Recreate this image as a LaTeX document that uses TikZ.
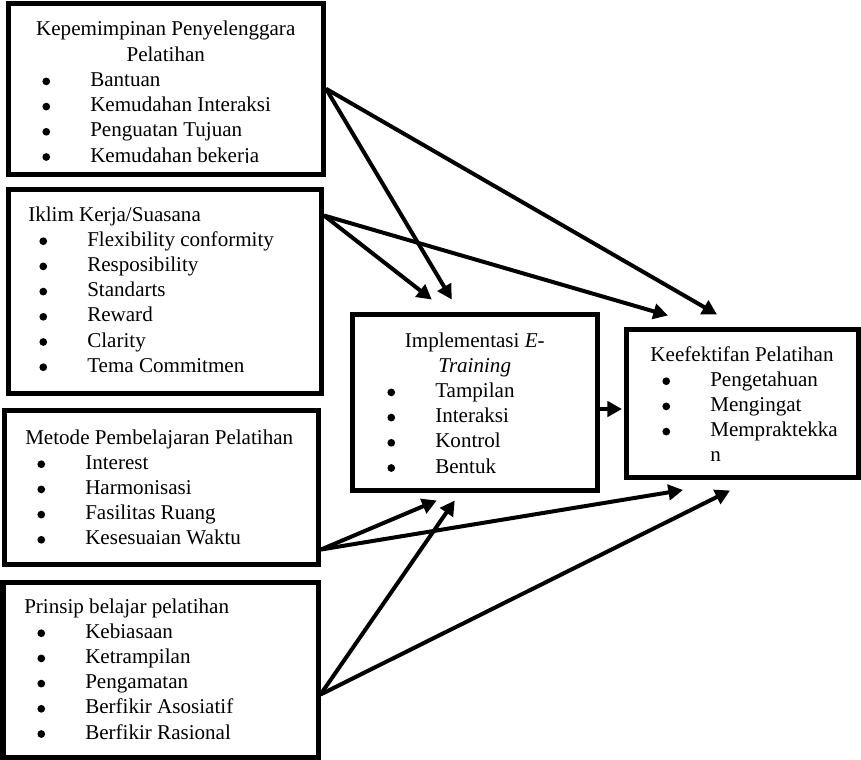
\documentclass[tikz,border=0pt]{standalone}
\usepackage{fontspec}
\setmainfont{Liberation Serif}
\usetikzlibrary{arrows.meta,calc,fit}
\newcommand{\titik}{\tikz[baseline=-3.75pt]\fill (0,0) circle (2.9pt);}
\newcommand{\butir}[1]{\makebox[0pt]{\titik}\hspace*{33pt}#1}

\begin{document}
\begin{tikzpicture}[x=0.75pt,y=-0.75pt,
  kotak/.style={draw,line width=3.75pt,inner sep=0pt},
  teks/.style={inner sep=0pt,font=\fontsize{15.8pt}{18.9pt}\selectfont},
  isi/.style={teks,anchor=base west},
  judul/.style={teks,anchor=base},
  panah/.style={line width=3pt,-{Triangle[length=11pt,width=11.5pt]}}]
\useasboundingbox (0,0) rectangle (861,760);

% kotak variabel
\node[kotak,fit={(8,3) (323.5,174.5)}] (kpm) {};
\node[kotak,fit={(8,189) (321.5,393)}] (iklim) {};
\node[kotak,fit={(4.5,410) (318.5,564.5)}] (metode) {};
\node[kotak,fit={(3,582) (318,757)}] (prinsip) {};
\node[kotak,fit={(352,314) (597.5,490)}] (impl) {};
\node[kotak,fit={(626.5,329.5) (858.5,477.5)}] (keef) {};

% isi kotak
\node[judul] (kpm-judul) at (165.75,36) {\begin{tabular}[t]{@{}c@{}}Kepemimpinan Penyelenggara\\Pelatihan\end{tabular}};
\begin{scope}
\clip (10,5) rectangle (321,162.6);
\node[isi] (kpm-isi) at (46,86.4) {\begin{tabular}[t]{@{}l@{}}\butir{Bantuan}\\\butir{Kemudahan Interaksi}\\\butir{Penguatan Tujuan}\\\butir{Kemudahan bekerja}\end{tabular}};
\end{scope}

\node[isi] (iklim-judul) at (28,221) {Iklim Kerja/Suasana};
\node[isi] (iklim-isi) at (43,246.2) {\begin{tabular}[t]{@{}l@{}}\butir{Flexibility conformity}\\\butir{Resposibility}\\\butir{Standarts}\\\butir{Reward}\\\butir{Clarity}\\\butir{Tema Commitmen}\end{tabular}};

\node[isi] (metode-judul) at (25,444) {Metode Pembelajaran Pelatihan};
\node[isi] (metode-isi) at (41,469.2) {\begin{tabular}[t]{@{}l@{}}\butir{Interest}\\\butir{Harmonisasi}\\\butir{Fasilitas Ruang}\\\butir{Kesesuaian Waktu}\end{tabular}};

\node[isi] (prinsip-judul) at (24,613) {Prinsip belajar pelatihan};
\node[isi] (prinsip-isi) at (41,638.2) {\begin{tabular}[t]{@{}l@{}}\butir{Kebiasaan}\\\butir{Ketrampilan}\\\butir{Pengamatan}\\\butir{Berfikir Asosiatif}\\\butir{Berfikir Rasional}\end{tabular}};

\node[judul] (impl-judul) at (474.75,347) {\begin{tabular}[t]{@{}c@{}}Implementasi \textit{E}-\\\textit{Training}\end{tabular}};
\node[isi] (impl-isi) at (391,397.4) {\begin{tabular}[t]{@{}l@{}}\butir{Tampilan}\\\butir{Interaksi}\\\butir{Kontrol}\\\butir{Bentuk}\end{tabular}};

\node[judul] (keef-judul) at (742,361) {Keefektifan Pelatihan};
\node[isi] (keef-isi) at (666,386.2) {\begin{tabular}[t]{@{}l@{}}\butir{Pengetahuan}\\\butir{Mengingat}\\\butir{Mempraktekka}\\\hspace*{33pt}n\end{tabular}};

% panah
\coordinate (iklim-out) at ($(iklim.north east)+(0,29)$);
\coordinate (metode-out) at ($(metode.north east)+(0,142)$);
\coordinate (prinsip-out) at ($(prinsip.north east)+(0,115)$);
\draw[panah] (kpm.east) -- ($(impl.north)+(-23,-12)$);
\draw[panah] (kpm.east) -- ($(keef.north)+(-25.5,-12.5)$);
\draw[panah] (iklim-out) -- ($(impl.north)+(-43,-12)$);
\draw[panah] (iklim-out) -- ($(keef.north)+(-74.5,-11.5)$);
\draw[panah] ($(impl.east)+(0,7)$) -- ($(keef.west)+(-2,5.5)$);
\draw[panah] (metode-out) -- ($(impl.south)+(-38,8)$);
\draw[panah] (metode-out) -- ($(keef.south)+(-59.5,10)$);
\draw[panah] (prinsip-out) -- ($(impl.south)+(-20,8)$);
\draw[panah] (prinsip-out) -- ($(keef.south)+(-12.5,10.5)$);
\end{tikzpicture}
\end{document}
